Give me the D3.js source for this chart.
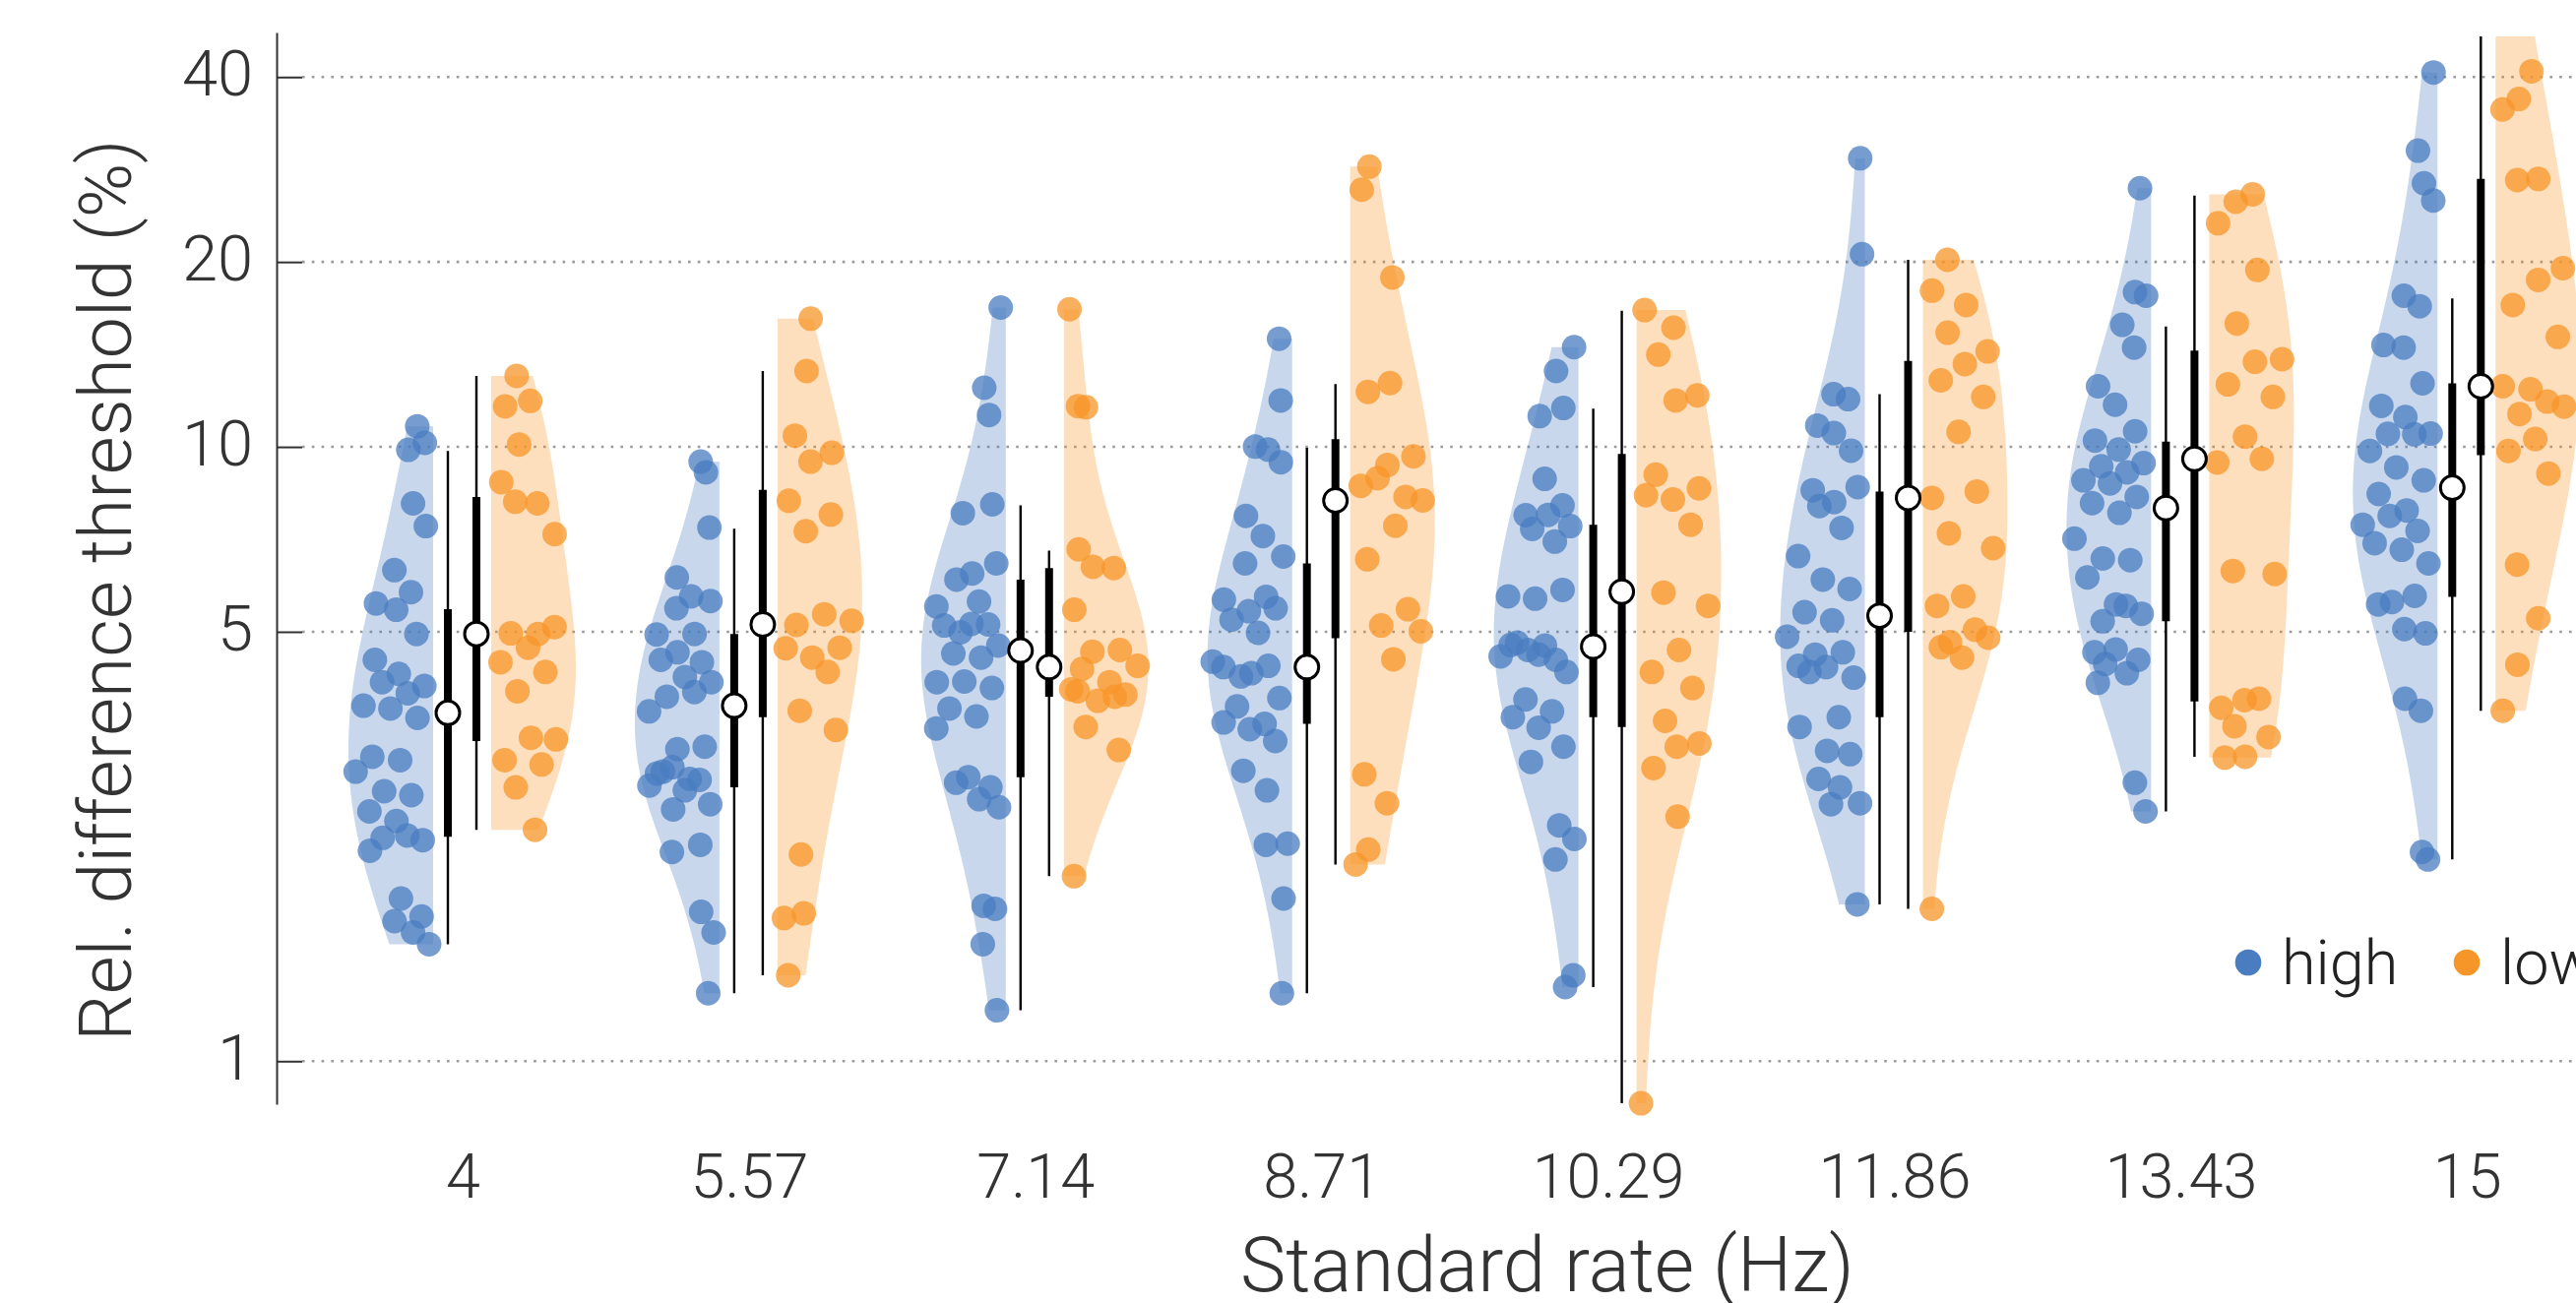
<!DOCTYPE html>
<html>
<head>
<meta charset="utf-8">
<script src="https://cdn.jsdelivr.net/npm/d3@7"></script>
<style>
  body { margin: 0; background: #fff; }
  svg { display: block; font-family: Roboto, "Helvetica Neue", Arial, sans-serif; font-weight: 300; }
</style>
</head>
<body>
<svg id="chart" width="2617" height="1324"></svg>
<script>
// ========== Data ==========

const categories = ["4", "5.57", "7.14", "8.71", "10.29", "11.86", "13.43", "15"];
const groups = ["high", "low"];
const yTicks = [1, 5, 10, 20, 40];

// individual thresholds (%), one list per standard rate
const highPoints = [
    [10.8, 10.15, 9.89, 8.09, 7.43, 6.3, 5.8, 5.56, 5.43, 4.96, 4.5, 4.27, 4.08, 4.14, 3.97, 3.79, 3.75, 3.62, 3.13, 3.09, 2.96, 2.75, 2.71, 2.55, 2.46, 2.29, 2.31, 2.33, 2.2, 1.84, 1.72, 1.69, 1.62, 1.55],
    [9.46, 9.09, 7.39, 6.13, 5.71, 5.61, 5.46, 4.96, 4.95, 4.63, 4.46, 4.5, 4.22, 4.14, 3.92, 3.99, 3.71, 3.22, 3.25, 2.96, 2.88, 2.81, 3.01, 2.87, 2.94, 2.76, 2.62, 2.57, 2.25, 2.19, 1.75, 1.62, 1.29],
    [16.86, 12.48, 11.27, 8.06, 7.8, 6.22, 6.46, 6.08, 5.6, 5.5, 4.99, 5.14, 5.12, 5.15, 4.75, 4.61, 4.54, 4.14, 4.15, 4.05, 3.75, 3.64, 3.48, 2.9, 2.79, 2.84, 2.67, 2.59, 1.79, 1.77, 1.55, 1.21],
    [15.0, 11.9, 10.01, 9.9, 9.44, 7.72, 7.16, 6.63, 6.46, 5.7, 5.64, 5.4, 5.46, 5.23, 4.98, 4.47, 4.23, 4.4, 4.38, 4.28, 3.9, 3.78, 3.54, 3.56, 3.47, 3.32, 2.97, 2.76, 2.26, 2.25, 1.84, 1.29],
    [14.53, 13.29, 11.57, 11.22, 8.87, 8.03, 7.74, 7.75, 7.43, 7.35, 7.01, 5.71, 5.66, 5.85, 4.8, 4.75, 4.56, 4.67, 4.5, 4.76, 4.59, 4.3, 3.88, 3.71, 3.63, 3.49, 3.25, 3.07, 2.42, 2.3, 2.13, 1.38, 1.32],
    [29.5, 20.59, 12.18, 11.96, 10.83, 10.53, 9.86, 8.5, 8.13, 8.6, 8.01, 7.38, 6.64, 6.08, 5.87, 5.38, 5.22, 4.91, 4.59, 4.63, 4.4, 4.38, 4.21, 4.3, 3.63, 3.5, 3.2, 3.16, 2.88, 2.79, 2.63, 2.62, 1.8],
    [26.37, 17.86, 17.62, 15.8, 14.51, 12.55, 11.71, 10.6, 10.24, 9.9, 9.41, 9.3, 9.09, 8.82, 8.72, 8.29, 8.1, 7.81, 7.09, 6.58, 6.54, 6.13, 5.54, 5.35, 5.2, 5.51, 4.63, 4.68, 4.5, 4.43, 4.28, 4.13, 2.84, 2.55],
    [40.68, 30.35, 26.86, 25.18, 17.62, 16.94, 14.65, 14.51, 12.69, 11.66, 11.18, 10.51, 10.5, 10.48, 9.85, 9.26, 8.82, 8.38, 7.88, 7.47, 7.72, 7.3, 6.97, 6.8, 6.46, 5.59, 5.72, 5.54, 5.05, 4.97, 3.89, 3.72, 2.19, 2.13]
];

const lowPoints = [
    [13.05, 11.64, 11.88, 10.09, 8.76, 8.09, 8.14, 7.21, 4.96, 4.97, 5.09, 4.71, 4.46, 4.3, 4.0, 3.34, 3.36, 3.09, 3.04, 2.79, 2.38],
    [16.17, 13.29, 10.43, 9.78, 9.46, 8.17, 7.76, 7.29, 5.21, 5.34, 5.13, 4.71, 4.54, 4.7, 4.3, 3.72, 3.46, 2.17, 1.71, 1.74, 1.38],
    [16.75, 11.6, 11.65, 6.81, 6.35, 6.38, 5.43, 4.67, 4.64, 4.4, 4.14, 4.35, 3.95, 3.86, 4.03, 3.92, 3.5, 3.21, 2.0, 4.0],
    [28.59, 26.22, 18.87, 12.7, 12.29, 9.65, 9.34, 8.64, 8.29, 8.89, 8.18, 7.44, 6.56, 5.44, 5.12, 5.01, 4.51, 2.93, 2.63, 2.21, 2.09],
    [16.7, 15.63, 14.13, 12.13, 11.9, 9.01, 8.56, 8.21, 8.34, 7.47, 5.79, 5.51, 4.67, 4.3, 4.05, 3.58, 3.29, 3.25, 3.0, 2.5, 0.854],
    [20.16, 17.96, 17.02, 15.34, 14.3, 13.64, 12.83, 12.06, 10.58, 8.26, 8.46, 7.23, 6.84, 5.71, 5.51, 5.04, 4.81, 4.89, 4.54, 4.72, 1.77],
    [25.77, 25.06, 23.12, 19.41, 15.88, 13.89, 13.76, 12.64, 12.06, 10.39, 9.43, 9.56, 6.28, 6.21, 3.87, 3.76, 3.89, 3.51, 3.37, 3.13, 3.12],
    [58.0, 40.87, 36.84, 35.42, 27.3, 27.18, 19.54, 18.7, 17.02, 15.1, 12.41, 12.55, 11.85, 11.31, 11.63, 10.3, 9.85, 9.05, 6.43, 5.26, 4.42, 3.72]
];

// box summaries
const highWhiskLo = [1.55, 1.29, 1.21, 1.29, 1.32, 1.80, 2.55, 2.13];
const highQ1 = [2.32, 2.79, 2.90, 3.54, 3.63, 3.63, 5.20, 5.70];
const highMedian = [3.69, 3.79, 4.66, 4.38, 4.73, 5.31, 7.95, 8.58];
const highQ3 = [5.44, 4.96, 6.08, 6.46, 7.47, 8.46, 10.20, 12.69];
const highWhiskHi = [9.85, 7.36, 8.03, 9.97, 11.54, 12.18, 15.70, 17.45];

const lowWhiskLo = [2.38, 1.38, 2.00, 2.09, 0.854, 1.77, 3.13, 3.72];
const lowQ1 = [3.32, 3.63, 3.92, 4.88, 3.50, 5.00, 3.85, 9.69];
const lowMedian = [4.96, 5.14, 4.38, 8.18, 5.81, 8.26, 9.56, 12.55];
const lowQ3 = [8.29, 8.51, 6.35, 10.29, 9.74, 13.80, 14.35, 27.30];
const lowWhiskHi = [13.05, 13.29, 6.78, 12.65, 16.66, 20.16, 25.65, 58.0];

const colors = { high: "#4a7cc0", low: "#f79628" };

// ========== Layout ==========

const svg = d3.select("#chart");
const W = 2617, H = 1324;
const axisX = 281, plotTop = 33, plotBottom = 1122;
const violinWidth = 86, violinGap = 29.5, boxGap = 14.5;
const pointR = 12.5;
const bwScale = 1.4;
const textColor = "#333";

const x = d3.scalePoint()
    .domain(categories)
    .range([469.5, 2505.8]);

const y = d3.scaleLog()
    .domain([0.851, 47.27])
    .range([plotBottom, plotTop]);

// ========== Helpers ==========

function kde(values) {
    const logs = values.map(v => Math.log10(v));
    const bw = bwScale * d3.deviation(logs) * Math.pow(logs.length, -0.2);
    const raw = t => d3.sum(logs, v => Math.exp(-0.5 * ((t - v) / bw) ** 2));
    const lo = d3.min(logs), hi = d3.max(logs);
    const grid = d3.range(0, 121).map(i => lo + (hi - lo) * i / 120);
    const peak = d3.max(grid, raw);
    return {
        grid,
        at: t => raw(t) / peak
    };
}

const stats = {
    high: { points: highPoints, lo: highWhiskLo, q1: highQ1, med: highMedian, q3: highQ3, hi: highWhiskHi, side: -1 },
    low: { points: lowPoints, lo: lowWhiskLo, q1: lowQ1, med: lowMedian, q3: lowQ3, hi: lowWhiskHi, side: 1 }
};

// ========== Grid ==========

svg.append("g")
    .selectAll("line")
    .data(yTicks)
    .join("line")
    .attr("x1", axisX + 26)
    .attr("x2", W)
    .attr("y1", d => y(d))
    .attr("y2", d => y(d))
    .attr("stroke", "#9a9a9a")
    .attr("stroke-width", 2.6)
    .attr("stroke-dasharray", "2.6,7.2");

// ========== Violins, points, boxes ==========

svg.append("defs").append("clipPath")
    .attr("id", "plotClip")
    .append("rect")
    .attr("x", axisX)
    .attr("y", 37)
    .attr("width", W)
    .attr("height", H);

const plot = svg.append("g").attr("clip-path", "url(#plotClip)");

groups.forEach(g => {
    const s = stats[g];
    categories.forEach((cat, i) => {
        const vals = s.points[i];
        const k = kde(vals);
        const edge = x(cat) + s.side * violinGap;

        const area = d3.area()
            .y(t => y(Math.pow(10, t)))
            .x0(edge)
            .x1(t => edge + s.side * violinWidth * k.at(t));

        plot.append("path")
            .datum(k.grid)
            .attr("d", area)
            .attr("fill", colors[g])
            .attr("fill-opacity", 0.3);

        plot.append("g")
            .selectAll("circle")
            .data(vals)
            .join("circle")
            .attr("cx", (d, j) => {
                const u = ((j + 1) * 0.6180339887 + i * 0.37) % 1;
                return edge + s.side * (0.08 + 0.86 * u) * violinWidth * k.at(Math.log10(d));
            })
            .attr("cy", d => y(d))
            .attr("r", pointR)
            .attr("fill", colors[g])
            .attr("fill-opacity", 0.75);
    });
});

groups.forEach(g => {
    const s = stats[g];
    const bx = cat => x(cat) + s.side * boxGap;
    const boxes = plot.append("g");

    boxes.selectAll(".whisker")
        .data(categories)
        .join("line")
        .attr("x1", bx).attr("x2", bx)
        .attr("y1", (d, i) => y(s.lo[i]))
        .attr("y2", (d, i) => y(s.hi[i]))
        .attr("stroke", "#000")
        .attr("stroke-width", 2.4);

    boxes.selectAll(".iqr")
        .data(categories)
        .join("line")
        .attr("x1", bx).attr("x2", bx)
        .attr("y1", (d, i) => y(s.q1[i]))
        .attr("y2", (d, i) => y(s.q3[i]))
        .attr("stroke", "#000")
        .attr("stroke-width", 8);

    boxes.selectAll(".median")
        .data(categories)
        .join("circle")
        .attr("cx", bx)
        .attr("cy", (d, i) => y(s.med[i]))
        .attr("r", 12)
        .attr("fill", "#fff")
        .attr("stroke", "#000")
        .attr("stroke-width", 3);
});

// ========== Axes ==========

const yAxis = svg.append("g")
    .attr("transform", `translate(${axisX},0)`)
    .call(d3.axisLeft(y)
        .tickValues(yTicks)
        .tickFormat(d3.format("d"))
        .tickSize(-26)
        .tickSizeOuter(0)
        .tickPadding(24));

yAxis.select(".domain").attr("stroke", textColor).attr("stroke-width", 2);
yAxis.selectAll(".tick line").attr("stroke", textColor).attr("stroke-width", 2);
yAxis.selectAll(".tick text")
    .attr("dy", "0.28em")
    .attr("fill", textColor)
    .style("font-size", "65px")
    .style("font-family", "Roboto, sans-serif")
    .style("font-weight", 300);

svg.append("g")
    .selectAll("text")
    .data(categories)
    .join("text")
    .attr("x", d => x(d) + 1)
    .attr("y", 1217)
    .attr("text-anchor", "middle")
    .attr("fill", textColor)
    .style("font-size", "63px")
    .text(d => d);

svg.append("text")
    .attr("x", 1260)
    .attr("y", 1312)
    .attr("fill", textColor)
    .style("font-size", "78px")
    .text("Standard rate (Hz)");

svg.append("text")
    .attr("transform", "rotate(-90)")
    .attr("x", -1058)
    .attr("y", 133)
    .attr("fill", textColor)
    .style("font-size", "75px")
    .text("Rel. difference threshold (%)");

// ========== Legend ==========

const legendX = [2284, 2506];
const legend = svg.append("g")
    .selectAll("g")
    .data(groups)
    .join("g")
    .attr("transform", (d, i) => `translate(${legendX[i]},978)`);

legend.append("circle")
    .attr("r", 13.3)
    .attr("fill", d => colors[d]);

legend.append("text")
    .attr("x", 34)
    .attr("y", 22)
    .attr("fill", "#222")
    .style("font-size", "63px")
    .text(d => d);
</script>
</body>
</html>
